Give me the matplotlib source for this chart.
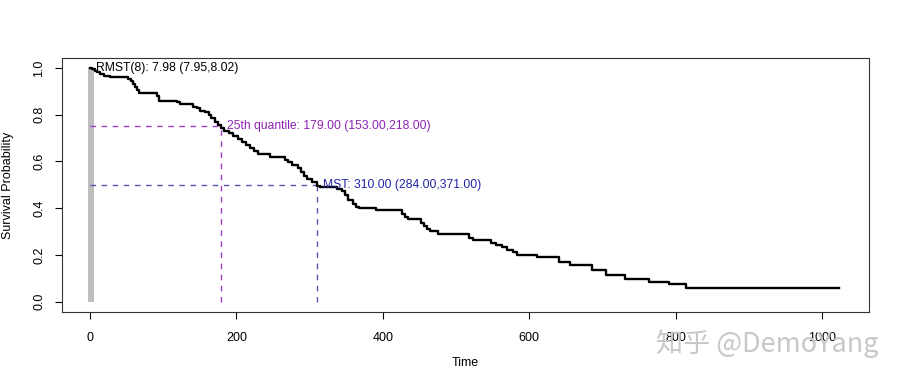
import numpy as np
import matplotlib
matplotlib.use("Agg")
import matplotlib.pyplot as plt

plt.rcParams['font.family'] = ['Liberation Sans', 'Noto Sans CJK SC', 'DejaVu Sans']

# Tiempos de cada escalón de la curva de Kaplan-Meier y supervivencia tras él
tiempos = [0, 3, 7, 10, 14, 19, 27, 52, 56, 59, 61, 64, 67, 91, 95, 119, 123,
           141, 146, 151, 157, 162, 166, 171, 175, 179, 183, 190, 195, 202, 207,
           213, 218, 224, 229, 246, 266, 271, 276, 284, 288, 292, 297, 303, 310,
           314, 338, 344, 349, 353, 359, 364, 368, 390, 426, 430, 434, 452, 456,
           460, 465, 475, 518, 523, 548, 555, 563, 570, 578, 583, 611, 641, 655,
           686, 705, 731, 764, 791, 814]
supervivencia = [1.0, 0.994, 0.987, 0.981, 0.974, 0.968, 0.961, 0.952, 0.944,
                 0.931, 0.918, 0.905, 0.894, 0.879, 0.861, 0.853, 0.846, 0.835,
                 0.827, 0.818, 0.810, 0.797, 0.784, 0.771, 0.758, 0.745, 0.732,
                 0.723, 0.710, 0.697, 0.684, 0.671, 0.658, 0.645, 0.634, 0.621,
                 0.608, 0.597, 0.587, 0.571, 0.554, 0.537, 0.524, 0.511, 0.496,
                 0.489, 0.481, 0.472, 0.455, 0.437, 0.420, 0.407, 0.400, 0.392,
                 0.377, 0.364, 0.353, 0.338, 0.325, 0.312, 0.301, 0.290, 0.273,
                 0.262, 0.251, 0.242, 0.234, 0.223, 0.212, 0.201, 0.190, 0.169,
                 0.158, 0.134, 0.113, 0.097, 0.084, 0.074, 0.058]
tiempo_final = 1023

# Estadísticos anotados
rmst_tau = 8
rmst_texto = "RMST(8): 7.98 (7.95,8.02)"
q25 = 179
q25_texto = "25th quantile: 179.00 (153.00,218.00)"
mst = 310
mst_texto = "MST: 310.00 (284.00,371.00)"

xticks = [0, 200, 400, 600, 800, 1000]
yticks = [0.0, 0.2, 0.4, 0.6, 0.8, 1.0]

t = np.array(tiempos + [tiempo_final])
s = np.array(supervivencia + [supervivencia[-1]])

fig = plt.figure(figsize=(9, 3.83), dpi=100)
ax = fig.add_axes([0.069, 0.185, 0.8966, 0.6636])

# Área RMST hasta tau
mask = t <= rmst_tau
tt = np.append(t[mask], rmst_tau)
ss = np.append(s[mask], s[mask][-1])
ax.fill_between(tt - 2, 0, ss, step='post', color='#bebebe', lw=0)

# Líneas de cuantiles
morado = '#9a3fc0'
azul = '#5555b0'
ax.plot([0, q25], [0.75, 0.75], ls=(0, (4, 4)), color=morado, lw=1.0)
ax.plot([q25, q25], [0, 0.75], ls=(0, (4, 4)), color=morado, lw=1.0)
ax.plot([0, mst], [0.5, 0.5], ls=(0, (4, 4)), color=azul, lw=1.0)
ax.plot([mst, mst], [0, 0.5], ls=(0, (4, 4)), color=azul, lw=1.0)

# Curva de supervivencia
ax.step(t, s, where='post', color='black', lw=1.7)

ax.text(rmst_tau, 1.0, rmst_texto, ha='left', va='center', fontsize=8.7, color='black')
ax.text(q25 + 8, 0.75, q25_texto, ha='left', va='center', fontsize=8.7, color='#8e24b4')
ax.text(mst + 8, 0.5, mst_texto, ha='left', va='center', fontsize=8.7, color='#2323a5')

ax.set_xlim(-38, 1064)
ax.set_ylim(-0.045, 1.043)
ax.set_xticks(xticks)
ax.set_xticklabels([str(v) for v in xticks])
ax.set_yticks(yticks)
ax.set_yticklabels([f"{v:.1f}" for v in yticks], rotation=90, va='center')
ax.tick_params(axis='x', labelsize=9, length=5, width=0.8, pad=9)
ax.tick_params(axis='y', labelsize=9, length=5, width=0.8, pad=7)
for sp in ax.spines.values():
    sp.set_linewidth(0.8)
    sp.set_color('#333333')
ax.set_xlabel("Time", fontsize=9, labelpad=10)
ax.set_ylabel("Survival Probability", fontsize=9, labelpad=14)

# Marca de agua
fig.text(0.976, 0.102, "知乎 @DemoYang", ha='right', va='center', fontsize=19.5,
         color='#c8c8c8', family=['Noto Sans CJK SC', 'DejaVu Sans'])

fig.savefig("out.png", dpi=100)
